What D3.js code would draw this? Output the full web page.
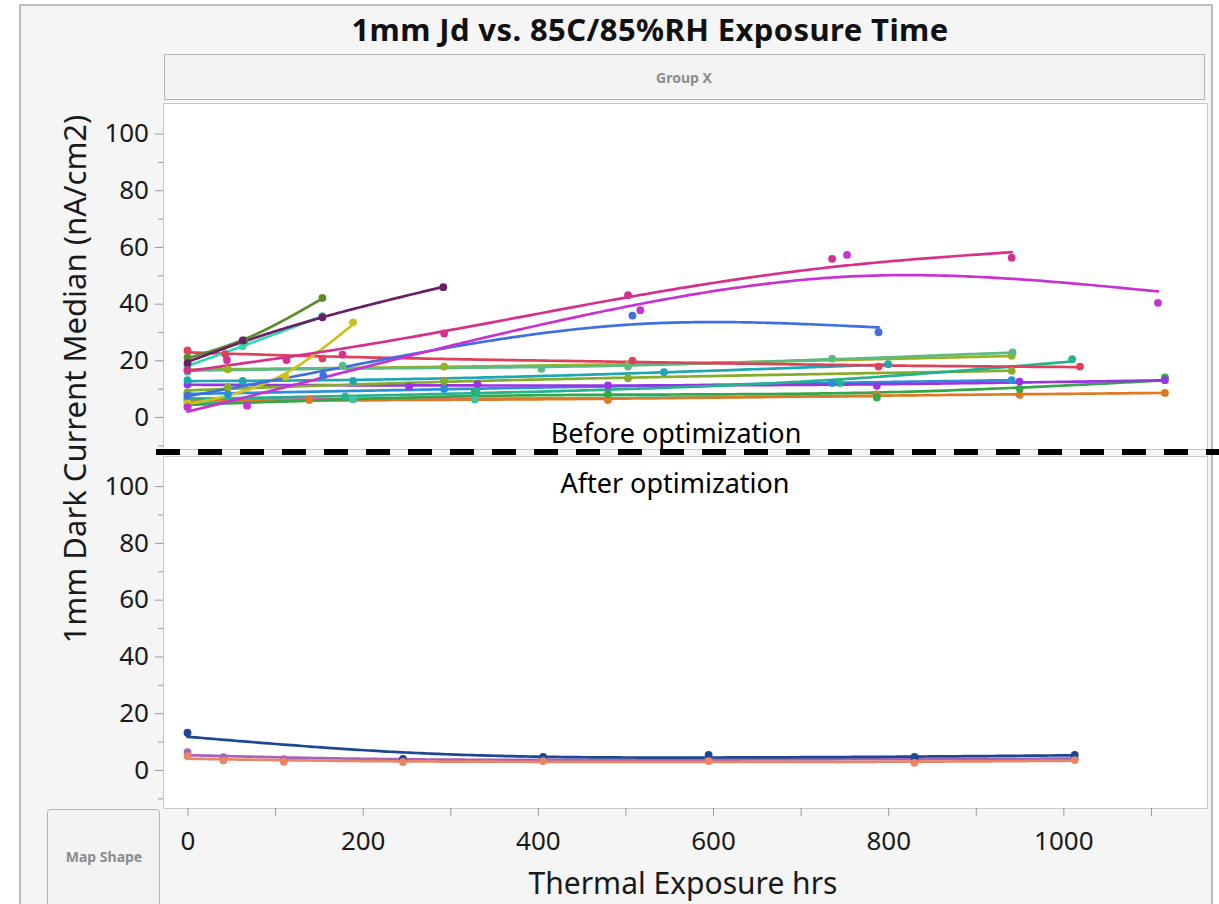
<!DOCTYPE html>
<html>
<head>
<meta charset="utf-8">
<script src="https://cdn.jsdelivr.net/npm/d3@7"></script>
<style>
  body { margin: 0; background: #ffffff; }
  svg text { font-family: "Noto Sans", "Open Sans", sans-serif; }
</style>
</head>
<body>
<svg id="chart" width="1219" height="904"></svg>
<script>
// ---- labels and ticks ----
const chartTitle = "1mm Jd vs. 85C/85%RH Exposure Time";
const groupLabel = "Group X";
const shapeLabel = "Map Shape";
const xLabel = "Thermal Exposure hrs";
const yLabel = "1mm Dark Current Median (nA/cm2)";
const beforeLabel = "Before optimization";
const afterLabel = "After optimization";
const xTickValues = [0, 100, 200, 300, 400, 500, 600, 700, 800, 900, 1000, 1100];
const xTickLabels = [0, 200, 400, 600, 800, 1000];
const yTickValues = [-10, 0, 10, 20, 30, 40, 50, 60, 70, 80, 90, 100];
const yTickLabels = [0, 20, 40, 60, 80, 100];

// ---- before optimization: [hours, median Jd nA/cm2] per wafer ----
const oliveA   = [[0, 21], [65, 27], [154, 42]];
const plum     = [[0, 19], [63, 27], [154, 35.2], [292, 45.8]];
const aqua     = [[0, 18], [63, 25], [154, 35.6]];
const mustard  = [[0, 5], [112, 14.2], [189, 33.4]];
const crimson  = [[0, 23.5], [43, 22.2], [154, 20.6], [508, 19.9], [789, 17.8], [1019, 17.8]];
const rose     = [[0, 16.5], [45, 20.1], [113, 20.1], [177, 22], [293, 29.5], [503, 43], [736, 55.8], [941, 56.2]];
const orchid   = [[0, 3.5], [68, 4], [517, 37.7], [753, 57.2], [1108, 40.3]];
const azure    = [[0, 7.5], [155, 14.6], [508, 35.8], [789, 29.9]];
const sage     = [[0, 16], [177, 18.1], [404, 17], [503, 17.8], [736, 20.6], [942, 22.8]];
const lime     = [[0, 16.8], [46, 16.8], [293, 17.8], [503, 18.4], [941, 21.6]];
const teal     = [[0, 13], [63, 12.7], [189, 12.7], [544, 15.8], [800, 18.6]];
const jade     = [[0, 6.5], [180, 7.2], [330, 8.9], [745, 12], [1010, 20.4]];
const oliveB   = [[0, 8.7], [46, 10.5], [293, 12.7], [503, 13.7], [941, 16.3]];
const violet   = [[0, 11.5], [253, 10.7], [331, 11.6], [480, 11.1], [787, 11], [950, 12.5], [1116, 13]];
const steel    = [[0, 8.3], [46, 8.1], [293, 9.9], [736, 12], [941, 13]];
const green    = [[0, 3.6], [328, 8.9], [480, 8.1], [787, 6.9], [950, 9.9], [1116, 14]];
const amber    = [[0, 5.8], [139, 6], [480, 6], [787, 8], [950, 7.8], [1116, 8.5]];
const mint     = [[0, 5], [189, 6.2], [328, 6.2], [787, 7.4]];
const blush    = [[0, 6.6], [139, 6.3], [480, 6.6]];

const beforeSeries = [mint, blush, amber, green, steel, violet, oliveB, jade, teal,
                      lime, sage, crimson, aqua, oliveA, plum, mustard, azure, orchid, rose];
const beforeColors = ["#3cc3a4", "#ef5fa6", "#de7a22", "#34a846", "#2b8ed8", "#9a33e4", "#86ac2c", "#25b38f", "#1fa6b4",
                      "#98b21e", "#5dba84", "#e0405a", "#30dbb0", "#5b8c2a", "#6a2068", "#c8c41e", "#3f6fe0", "#c733d3", "#d6308e"];

// ---- after optimization ----
const navy   = [[0, 13.1], [246, 3.9], [406, 4.6], [595, 5.3], [830, 4.6], [1013, 5.3]];
const mauve  = [[0, 6.3], [41, 4.5], [110, 3.8], [246, 3.4], [406, 3.5], [595, 4], [830, 3.8], [1013, 4]];
const salmon = [[0, 4.9], [41, 3.3], [110, 2.9], [246, 2.8], [406, 3.1], [595, 3.1], [830, 2.5], [1013, 3.5]];

const afterSeries = [mauve, navy, salmon];
const afterColors = ["#a764b6", "#1d4793", "#ec8466"];

// ---- layout ----
const svg = d3.select("#chart");
const frameL = 163, frameR = 1207;
const topPanel = { y0: 103, y1: 449 };
const botPanel = { y0: 456, y1: 808 };

const x = d3.scaleLinear().domain([-28, 1164]).range([frameL, frameR]);
const yTop = d3.scaleLinear().domain([-11.3, 110.8]).range([topPanel.y1, topPanel.y0]);
const yBot = d3.scaleLinear().domain([-13.4, 110.6]).range([botPanel.y1, botPanel.y0]);

// window background
svg.append("rect").attr("x", 20).attr("y", 5).attr("width", 1192).attr("height", 910)
  .attr("fill", "#f5f5f5").attr("stroke", "#a9a9a9").attr("stroke-width", 1.5);

// title
svg.append("text").attr("x", 650).attr("y", 41).attr("text-anchor", "middle")
  .attr("font-size", 31).attr("font-weight", "bold").attr("fill", "#111")
  .attr("letter-spacing", 0.4).text(chartTitle);

// group header box
svg.append("rect").attr("x", 164.5).attr("y", 54.5).attr("width", 1040).attr("height", 45)
  .attr("fill", "#f2f2f2").attr("stroke", "#b5b5b5");
svg.append("text").attr("x", 684).attr("y", 83).attr("text-anchor", "middle")
  .attr("font-size", 14).attr("font-weight", "bold").attr("fill", "#8c8c8c").text(groupLabel);

// map shape box
svg.append("rect").attr("x", 47.5).attr("y", 809.5).attr("width", 112).attr("height", 110).attr("rx", 3)
  .attr("fill", "#f3f3f3").attr("stroke", "#b5b5b5");
svg.append("text").attr("x", 104).attr("y", 862).attr("text-anchor", "middle")
  .attr("font-size", 14).attr("font-weight", "bold").attr("fill", "#8c8c8c").text(shapeLabel);

// dense linear solve (Gaussian elimination with partial pivoting)
function solve(A, b) {
  const n = b.length;
  const M = A.map((row, i) => row.slice().concat([b[i]]));
  for (let c = 0; c < n; c++) {
    let p = c;
    for (let r = c + 1; r < n; r++) if (Math.abs(M[r][c]) > Math.abs(M[p][c])) p = r;
    [M[c], M[p]] = [M[p], M[c]];
    for (let r = c + 1; r < n; r++) {
      const f = M[r][c] / M[c][c];
      for (let k = c; k <= n; k++) M[r][k] -= f * M[c][k];
    }
  }
  const out = new Array(n).fill(0);
  for (let r = n - 1; r >= 0; r--) {
    let s = M[r][n];
    for (let k = r + 1; k < n; k++) s -= M[r][k] * out[k];
    out[r] = s / M[r][r];
  }
  return out;
}

// cubic smoothing spline (Reinsch), x rescaled to [0,1] per series
function smoothingSpline(pts, lambda, n = 120) {
  const s = pts.slice().sort((a, b) => a[0] - b[0]);
  const lo = s[0][0], hi = s[s.length - 1][0], span = hi - lo;
  const u = s.map(d => (d[0] - lo) / span), y = s.map(d => d[1]);
  const N = u.length;
  if (N < 3) return s;
  const h = d3.range(N - 1).map(i => u[i + 1] - u[i]);
  const m = N - 2;
  const Q = Array.from({ length: N }, () => new Array(m).fill(0));
  for (let j = 0; j < m; j++) {
    Q[j][j] = 1 / h[j];
    Q[j + 1][j] = -1 / h[j] - 1 / h[j + 1];
    Q[j + 2][j] = 1 / h[j + 1];
  }
  const A = Array.from({ length: m }, () => new Array(m).fill(0));
  for (let j = 0; j < m; j++) {
    A[j][j] = (h[j] + h[j + 1]) / 3;
    if (j < m - 1) { A[j][j + 1] = h[j + 1] / 6; A[j + 1][j] = h[j + 1] / 6; }
  }
  const rhs = new Array(m).fill(0);
  for (let a = 0; a < m; a++) {
    for (let i = 0; i < N; i++) rhs[a] += Q[i][a] * y[i];
    for (let b = 0; b < m; b++) {
      let t = 0;
      for (let i = 0; i < N; i++) t += Q[i][a] * Q[i][b];
      A[a][b] += lambda * t;
    }
  }
  const gam = solve(A, rhs);
  const g = y.map((yi, i) => {
    let t = 0;
    for (let a = 0; a < m; a++) t += Q[i][a] * gam[a];
    return yi - lambda * t;
  });
  const c = [0, ...gam, 0];
  return d3.range(n + 1).map(k => {
    const uu = k / n;
    let i = Math.max(0, Math.min(N - 2, d3.bisectRight(u, uu) - 1));
    const a = (u[i + 1] - uu) / h[i], b = (uu - u[i]) / h[i];
    const v = a * g[i] + b * g[i + 1] + ((a * a * a - a) * c[i] + (b * b * b - b) * c[i + 1]) * h[i] * h[i] / 6;
    return [lo + uu * span, v];
  });
}

const smoothLambda = 0.004;

function drawPanel(panel, y, series, colors, clipId) {
  svg.append("rect").attr("x", frameL + 0.5).attr("y", panel.y0 + 0.5)
    .attr("width", frameR - frameL).attr("height", panel.y1 - panel.y0)
    .attr("fill", "#ffffff").attr("stroke", "#c9c9c9");

  svg.append("clipPath").attr("id", clipId).append("rect")
    .attr("x", frameL).attr("y", panel.y0).attr("width", frameR - frameL).attr("height", panel.y1 - panel.y0);

  // y axis
  const ax = svg.append("g").attr("transform", `translate(${frameL},0)`)
    .call(d3.axisLeft(y).tickValues(yTickValues).tickSize(8).tickPadding(6)
      .tickFormat(d => yTickLabels.includes(d) ? d : ""));
  ax.select(".domain").remove();
  ax.selectAll(".tick line").attr("stroke", "#9a9a9a")
    .attr("x2", d => yTickLabels.includes(d) ? -8 : -5);
  ax.selectAll(".tick text").attr("font-size", 26).attr("fill", "#1a1a1a")
    .attr("font-family", "'Noto Sans', sans-serif").attr("x", -14);

  const g = svg.append("g").attr("clip-path", `url(#${clipId})`);
  const line = d3.line().x(d => x(d[0])).y(d => y(d[1])).curve(d3.curveMonotoneX);

  series.forEach((pts, i) => {
    g.append("path").datum(smoothingSpline(pts, smoothLambda)).attr("d", line)
      .attr("fill", "none").attr("stroke", colors[i]).attr("stroke-width", 2.7)
      .attr("stroke-linejoin", "round").attr("stroke-linecap", "round");
  });
  series.forEach((pts, i) => {
    g.selectAll(null).data(pts).join("circle")
      .attr("cx", d => x(d[0])).attr("cy", d => y(d[1])).attr("r", 3.9)
      .attr("fill", colors[i]);
  });
}

drawPanel(topPanel, yTop, beforeSeries, beforeColors, "clipTop");
drawPanel(botPanel, yBot, afterSeries, afterColors, "clipBot");

// x axis
const xa = svg.append("g").attr("transform", `translate(0,${botPanel.y1})`)
  .call(d3.axisBottom(x).tickValues(xTickValues).tickSize(8).tickPadding(16)
    .tickFormat(d => xTickLabels.includes(d) ? d : ""));
xa.select(".domain").remove();
xa.selectAll(".tick line").attr("stroke", "#9a9a9a");
xa.selectAll(".tick text").attr("font-size", 26).attr("fill", "#1a1a1a")
  .attr("font-family", "'Noto Sans', sans-serif");

// axis titles
svg.append("text").attr("x", 683).attr("y", 894).attr("text-anchor", "middle")
  .attr("font-size", 30).attr("fill", "#1a1a1a").text(xLabel);
svg.append("text").attr("transform", "translate(86,379) rotate(-90)").attr("text-anchor", "middle")
  .attr("font-size", 31).attr("fill", "#1a1a1a").text(yLabel);

// before / after divider
svg.append("line").attr("x1", 156).attr("x2", 1219).attr("y1", 452).attr("y2", 452)
  .attr("stroke", "#000").attr("stroke-width", 6).attr("stroke-dasharray", "24,18");
svg.append("text").attr("x", 676).attr("y", 443).attr("text-anchor", "middle")
  .attr("font-size", 27).attr("fill", "#000").attr("font-family", "'Open Sans', sans-serif").text(beforeLabel);
svg.append("text").attr("x", 675).attr("y", 493).attr("text-anchor", "middle")
  .attr("font-size", 27).attr("fill", "#000").attr("font-family", "'Open Sans', sans-serif").text(afterLabel);
</script>
</body>
</html>
